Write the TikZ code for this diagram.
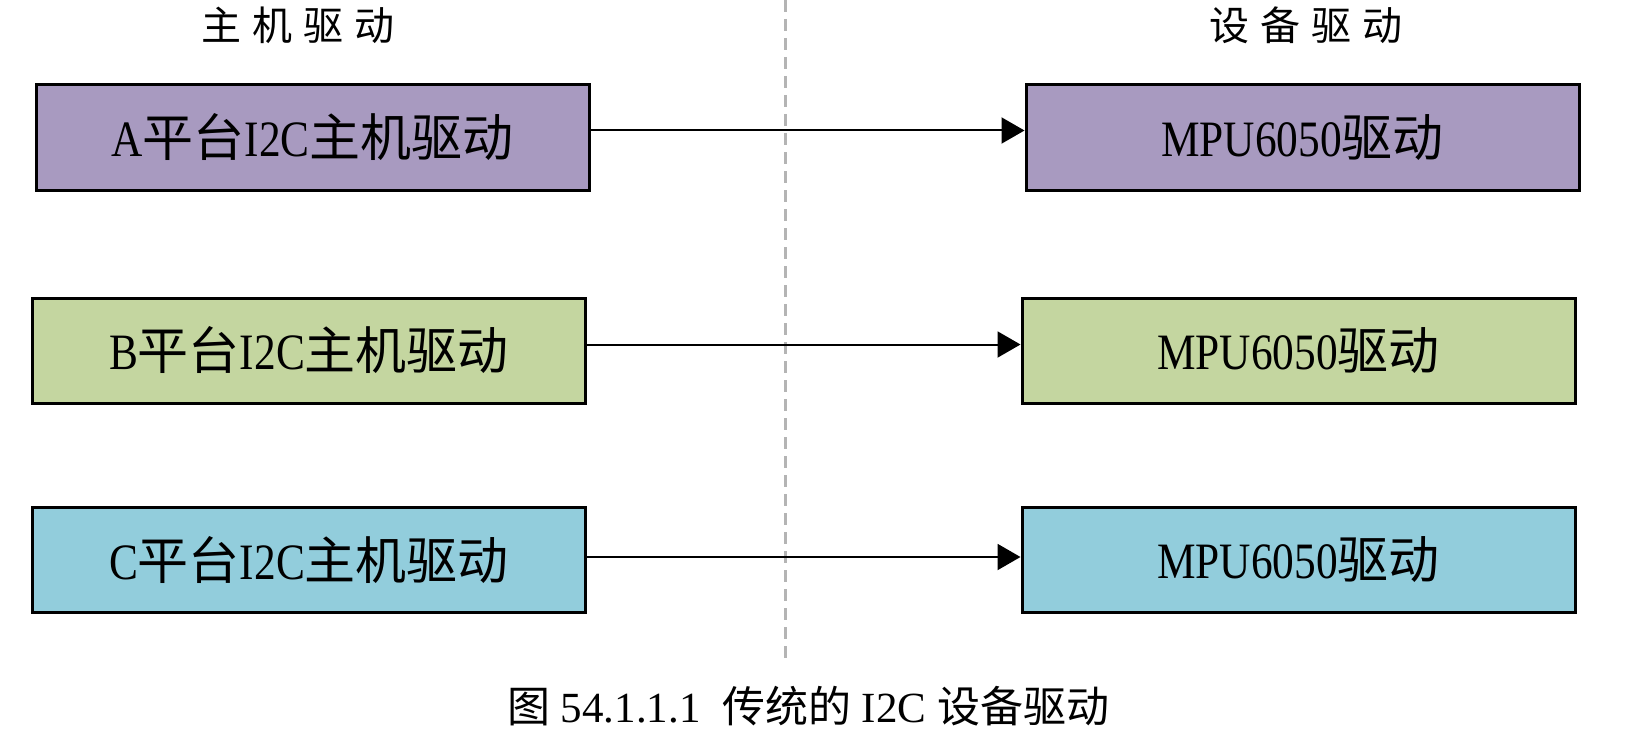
\documentclass[tikz,border=0pt]{standalone}
\usepackage{fontspec}
\setmainfont{Liberation Serif}
\newfontfamily\cjk{Noto Sans CJK SC}
\newfontfamily\cjkwide[LetterSpace=27]{Noto Sans CJK SC}
\newfontfamily\narrow[FakeStretch=0.85]{Liberation Serif}
\usetikzlibrary{arrows.meta}
\newcommand{\zh}[1]{{\cjk #1}}
\definecolor{boxpurple}{RGB}{168,154,192}
\definecolor{boxgreen}{RGB}{196,214,160}
\definecolor{boxcyan}{RGB}{146,205,220}
\definecolor{divgray}{RGB}{180,180,180}
\begin{document}
\begin{tikzpicture}[x=0.5pt,y=0.5pt,yscale=-1,xscale=1,
  drvbox/.style={draw=black,line width=1.5pt,minimum width=276.5pt,minimum height=52.5pt,inner sep=0pt,font=\narrow\fontsize{25.5}{30}\selectfont},
  conn/.style={line width=1pt,-{Triangle[length=11.5pt,width=13pt]}},
  title/.style={inner sep=0pt,font=\cjkwide\fontsize{20}{24}\selectfont}]
\path[use as bounding box] (0,0) rectangle (1627,733);

%Straight Lines (divider)
\coordinate (divtop) at (785,0);
\coordinate (divbot) at (785,664);
\draw [divgray,line width=1.5pt,dash pattern={on 6pt off 3.5pt}] (divtop) -- (divbot);

% Text Node
\node[title] (hosttitle) at (298,25) {主机驱动};
% Text Node
\node[title] (devtitle) at (1306,25) {设备驱动};

%Shapes: host drivers
\node[drvbox,fill=boxpurple] (hostA) at (312.5,137.5) {A\zh{平台}I2C\zh{主机驱动}};
\node[drvbox,fill=boxgreen] (hostB) at (309,350.5) {B\zh{平台}I2C\zh{主机驱动}};
\node[drvbox,fill=boxcyan] (hostC) at (309,560) {C\zh{平台}I2C\zh{主机驱动}};

%Shapes: device drivers
\node[drvbox,fill=boxpurple] (devA) at (1302.5,137.5) {MPU6050\zh{驱动}};
\node[drvbox,fill=boxgreen] (devB) at (1298.5,350.5) {MPU6050\zh{驱动}};
\node[drvbox,fill=boxcyan] (devC) at (1298.5,560) {MPU6050\zh{驱动}};

%Straight Lines
\draw[conn] ([yshift=-3.5pt]hostA.east) -- ([yshift=-3.5pt]devA.west);
\draw[conn] ([yshift=-3pt]hostB.east) -- ([yshift=-3pt]devB.west);
\draw[conn] ([yshift=-1.5pt]hostC.east) -- ([yshift=-1.5pt]devC.west);

% Text Node
\node[inner sep=0pt,font=\fontsize{21.5}{25}\selectfont] (caption) at (808,706) {\zh{图} 54.1.1.1\ \ \zh{传统的} I2C \zh{设备驱动}};
\end{tikzpicture}
\end{document}
